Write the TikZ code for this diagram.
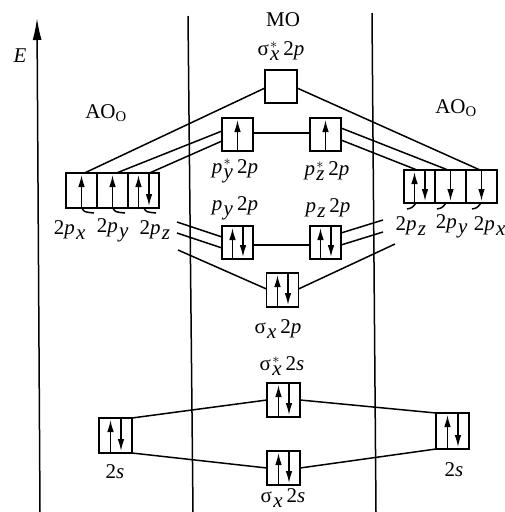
\documentclass[tikz,border=0pt]{standalone}
\usepackage{fontspec}
\setmainfont{Liberation Serif}
\usetikzlibrary{arrows.meta,calc}
\newcommand{\orbl}[3]{#1\kern1.2pt$_{\textit{#2}}^{#3}$}
\begin{document}
\begin{tikzpicture}[x=1pt,y=-1pt,
  orb/.style={draw,line width=1.5pt,minimum width=31pt,minimum height=33pt,inner sep=0pt,outer sep=0pt},
  conn/.style={line width=1.5pt},
  axis/.style={line width=1.5pt,-{Latex[length=22pt,width=9pt]}},
  spin/.style={line width=1.3pt,-{Latex[length=12pt,width=6.5pt]}},
  lab/.style={font=\fontsize{21}{25}\selectfont,inner sep=0pt}]
\useasboundingbox (0,0) rectangle (505,512);
% axes and separators
\coordinate (ebot) at (40,512); \coordinate (etop) at (37,18);
\draw[axis] (ebot) -- (etop);
\coordinate (v1t) at (188,16); \coordinate (v1b) at (193,512);
\coordinate (v2t) at (372,13); \coordinate (v2b) at (376,512);
\draw[conn] (v1t) -- (v1b);
\draw[conn] (v2t) -- (v2b);
\node[lab] (E) at (20,56) {\textit{E}};
\node[lab] (MO) at (283,20) {MO};
\node[lab] (AOl) at (106,113) {AO\textsubscript{O}};
\node[lab] (AOr) at (456,108) {AO\textsubscript{O}};
% MO boxes
\node[orb,minimum width=32pt] (sA) at (281,86.5) {};
\node[orb] (pys) at (237.5,134.5) {};
\node[orb] (pzs) at (325.5,134.5) {};
\node[orb] (py) at (237.5,242.5) {};
\node[orb] (pz) at (325.5,242.5) {};
\node[orb,minimum width=32pt,minimum height=34pt] (sx) at (282.5,290) {};
\node[orb,minimum width=33pt,minimum height=34pt] (ss2s) at (283.5,400) {};
\node[orb,minimum width=33pt,minimum height=34pt] (s2s) at (283.5,468) {};
% AO boxes
\node[orb,minimum height=35pt] (L1) at (81.5,190.5) {};
\node[orb,minimum height=35pt] (L2) at (112.5,190.5) {};
\node[orb,minimum height=35pt] (L3) at (143.5,190.5) {};
\node[orb] (R1) at (419.5,186.5) {};
\node[orb] (R2) at (450.5,186.5) {};
\node[orb] (R3) at (481.5,186.5) {};
\node[orb,minimum width=33pt,minimum height=35pt] (L2s) at (115.5,435.5) {};
\node[orb,minimum width=33pt,minimum height=36pt] (R2s) at (452.5,431) {};
% labels
\node[lab] (lsA) at (281,51) {\orbl{σ}{x}{*}\,2\textit{p}};
\node[lab] (lpys) at (235,171) {\orbl{\textit{p}}{y}{*}\,2\textit{p}};
\node[lab] (lpzs) at (327,171) {\orbl{\textit{p}}{z}{*}\,2\textit{p}};
\node[lab] (lpy) at (235,208) {\orbl{\textit{p}}{y}{}\,2\textit{p}};
\node[lab] (lpz) at (328,208) {\orbl{\textit{p}}{z}{}\,2\textit{p}};
\node[lab] (lsx) at (278,329) {\orbl{σ}{x}{}\,2\textit{p}};
\node[lab] (lss) at (282,366) {\orbl{σ}{x}{*}\,2\textit{s}};
\node[lab] (ls) at (283,498) {\orbl{σ}{x}{}\,2\textit{s}};
\node[lab] (lL2s) at (115,472) {2\textit{s}};
\node[lab] (lR2s) at (454,470) {2\textit{s}};
\node[lab] (lLx) at (70,230) {2\orbl{\textit{p}}{x}{}};
\node[lab] (lLy) at (113,230) {2\orbl{\textit{p}}{y}{}};
\node[lab] (lLz) at (155,230) {2\orbl{\textit{p}}{z}{}};
\node[lab] (lRz) at (411,226) {2\orbl{\textit{p}}{z}{}};
\node[lab] (lRy) at (452,226) {2\orbl{\textit{p}}{y}{}};
\node[lab] (lRx) at (490,226) {2\orbl{\textit{p}}{x}{}};
% spins
\newcommand{\spinup}[2][0]{\draw[spin] ([xshift=#1pt]#2.south) -- ([xshift=#1pt,yshift=-2pt]#2.north);}
\newcommand{\spindn}[2][0]{\draw[spin] ([xshift=#1pt]#2.north) -- ([xshift=#1pt,yshift=2pt]#2.south);}
\newcommand{\spinpair}[1]{\spinup[-5]{#1}\spindn[5.5]{#1}}
\spinup{L1} \spinup{L2} \spinpair{L3}
\spinpair{R1} \spindn{R2} \spindn{R3}
\spinup{pys} \spinup{pzs}
\spinpair{py} \spinpair{pz} \spinpair{sx}
\spinpair{ss2s} \spinpair{s2s} \spinpair{L2s} \spinpair{R2s}
% connectors
\draw[conn] ($(L1.north)+(3,0)$) -- ($(sA.west)+(0,1.5)$);
\draw[conn] ($(L2.north)+(4,0)$) -- ($(pys.west)+(0,-3.5)$);
\draw[conn] ($(L3.north)+(6,0)$) -- ($(pys.west)+(0,6.5)$);
\draw[conn] ($(pys.east)+(0,-1.5)$) -- ($(pzs.west)+(0,-1.5)$);
\draw[conn] ($(pzs.east)+(0,-6.5)$) -- ($(R2.north)+(-2.5,0)$);
\draw[conn] ($(pzs.east)+(0,5.5)$) -- ($(R1.north)+(-2.5,0)$);
\draw[conn] ($(sA.east)+(0,1.5)$) -- ($(R3.north)+(-1.5,0)$);
\draw[conn] ($(py.east)+(0,2.5)$) -- ($(pz.west)+(0,2.5)$);
\coordinate (la) at (177,222); \coordinate (lb) at (177,233); \coordinate (lc) at (178,250);
\coordinate (ra) at (383,220); \coordinate (rb) at (383,232); \coordinate (rc) at (395,244);
\draw[conn] (la) -- ($(py.west)+(0,-5.5)$);
\draw[conn] (lb) -- ($(py.west)+(0,5.5)$);
\draw[conn] (lc) -- ($(sx.west)+(0,-1)$);
\draw[conn] (ra) -- ($(pz.east)+(0,-9.5)$);
\draw[conn] (rb) -- ($(pz.east)+(0,2.5)$);
\draw[conn] (rc) -- ($(sx.east)+(0,-1)$);
\draw[conn] (L2s.north east) -- (ss2s.west);
\draw[conn] (L2s.south east) -- (s2s.west);
\draw[conn] (ss2s.east) -- (R2s.north west);
\draw[conn] (s2s.east) -- (R2s.south west);
% small hooks under AO cells
\foreach \dx in {0,31,62} {
  \draw[conn] (82+\dx,208) .. controls (84+\dx,212) .. (94+\dx,213);
}
\foreach \dx in {0,30,65} {
  \draw[conn] (407+\dx,209) .. controls (412+\dx,208) .. (416+\dx,203);
}
\end{tikzpicture}
\end{document}
